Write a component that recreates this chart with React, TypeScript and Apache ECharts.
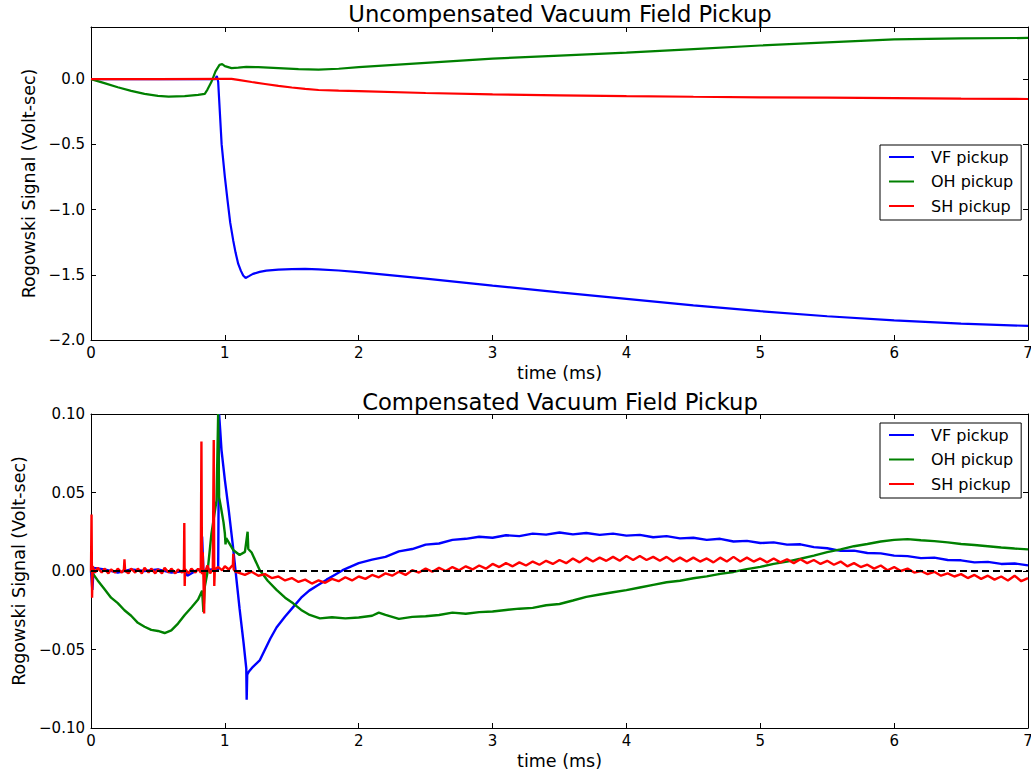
import { useEffect, useRef } from 'react';
import * as echarts from 'echarts';

const FONT = '"DejaVu Sans", Verdana, sans-serif';

const SERIES_NAMES = ['VF pickup', 'OH pickup', 'SH pickup'];
const SERIES_COLORS = ['#0000ff', '#008000', '#ff0000'];

const X_TICKS = [0, 1, 2, 3, 4, 5, 6, 7];
const TOP_Y_TICKS = [-2.0, -1.5, -1.0, -0.5, 0.0];
const BOTTOM_Y_TICKS = [-0.1, -0.05, 0.0, 0.05, 0.1];

// Uncompensated signals: [time (ms), Volt-sec]
const vfRaw: [number, number][] = [
  [0, 0], [0.3, 0.001], [0.6, 0.0], [0.93, 0.0], [0.94, 0.025], [0.95, -0.02],
  [0.976, -0.5], [1.0, -0.75], [1.02, -0.93], [1.04, -1.1], [1.063, -1.24],
  [1.08, -1.33], [1.1, -1.417], [1.12, -1.47], [1.137, -1.506], [1.155, -1.524],
  [1.18, -1.51], [1.21, -1.493], [1.26, -1.478], [1.31, -1.468], [1.4, -1.46],
  [1.5, -1.456], [1.6, -1.455], [1.7, -1.458], [1.85, -1.467], [2.0, -1.48],
  [2.25, -1.505], [2.5, -1.53], [2.75, -1.556], [3.0, -1.583], [3.5, -1.635],
  [4.0, -1.685], [4.5, -1.735], [5.0, -1.779], [5.5, -1.818], [6.0, -1.85],
  [6.5, -1.875], [7.0, -1.892],
];

const ohRaw: [number, number][] = [
  [0, 0], [0.1, -0.03], [0.2, -0.062], [0.3, -0.09], [0.4, -0.113], [0.5, -0.128],
  [0.58, -0.134], [0.7, -0.13], [0.8, -0.12], [0.85, -0.113], [0.87, -0.08],
  [0.9, -0.02], [0.93, 0.06], [0.96, 0.11], [0.98, 0.115], [1.0, 0.1],
  [1.05, 0.085], [1.1, 0.088], [1.16, 0.094], [1.25, 0.092], [1.4, 0.085],
  [1.55, 0.077], [1.7, 0.073], [1.85, 0.08], [2.0, 0.092], [2.5, 0.125],
  [3.0, 0.158], [3.5, 0.18], [4.0, 0.203], [4.5, 0.23], [5.0, 0.258],
  [5.5, 0.282], [6.0, 0.305], [6.5, 0.313], [7.0, 0.316],
];

const shRaw: [number, number][] = [
  [0, 0], [0.5, 0.001], [1.0, 0.002], [1.05, 0.002], [1.1, -0.005], [1.2, -0.022],
  [1.3, -0.037], [1.4, -0.052], [1.5, -0.064], [1.6, -0.075], [1.7, -0.083],
  [1.85, -0.088], [2.0, -0.092], [2.5, -0.106], [3.0, -0.117], [3.5, -0.124],
  [4.0, -0.13], [4.5, -0.135], [5.0, -0.139], [5.5, -0.142], [6.0, -0.145],
  [6.5, -0.149], [7.0, -0.152],
];

// Compensated signals: [time (ms), Volt-sec]
const vfComp: [number, number][] = [
  [0, 0], [0.01, -0.012], [0.02, 0.002], [0.1, 0.001], [0.2, -0.001], [0.3, 0.001],
  [0.4, 0.0], [0.5, 0.001], [0.6, -0.001], [0.7, 0.0], [0.72, -0.003], [0.8, 0.001],
  [0.825, 0.0], [0.83, 0.022], [0.84, 0.0], [0.9, 0.001], [0.95, 0.001],
  [0.957, 0.1], [0.965, 0.09], [0.975, 0.077], [1.0, 0.058], [1.03, 0.038],
  [1.06, 0.016], [1.09, -0.008], [1.11, -0.024], [1.14, -0.046], [1.16, -0.062],
  [1.163, -0.082], [1.167, -0.066], [1.18, -0.064], [1.21, -0.061], [1.26, -0.057],
  [1.3, -0.05], [1.34, -0.043], [1.386, -0.036], [1.45, -0.029], [1.51, -0.023],
  [1.57, -0.017], [1.63, -0.0125], [1.7, -0.0088], [1.76, -0.0055], [1.82, -0.0025],
  [1.88, 0.0005], [1.94, 0.0028], [2.0, 0.005], [2.1, 0.0072], [2.2, 0.009],
  [2.3, 0.0125], [2.4, 0.014], [2.5, 0.0168], [2.6, 0.0175], [2.7, 0.0198],
  [2.8, 0.0205], [2.9, 0.0218], [3.0, 0.0212], [3.1, 0.0228], [3.2, 0.0222],
  [3.3, 0.0238], [3.4, 0.0232], [3.5, 0.0245], [3.6, 0.0233], [3.7, 0.0242],
  [3.8, 0.023], [3.9, 0.0238], [4.0, 0.0225], [4.1, 0.023], [4.2, 0.0215],
  [4.3, 0.0222], [4.4, 0.0208], [4.5, 0.0212], [4.6, 0.0198], [4.7, 0.0205],
  [4.8, 0.0188], [4.9, 0.0192], [5.0, 0.0178], [5.1, 0.0182], [5.2, 0.0168],
  [5.3, 0.017], [5.4, 0.0152], [5.5, 0.0145], [5.6, 0.0128], [5.7, 0.013],
  [5.8, 0.0115], [5.9, 0.0112], [6.0, 0.0098], [6.1, 0.0095], [6.2, 0.0082],
  [6.3, 0.0085], [6.4, 0.007], [6.5, 0.0068], [6.6, 0.0055], [6.7, 0.0058],
  [6.8, 0.0045], [6.9, 0.0048], [7.0, 0.0036],
];

const ohComp: [number, number][] = [
  [0, 0], [0.05, -0.006], [0.1, -0.0115], [0.15, -0.017], [0.2, -0.0205],
  [0.25, -0.025], [0.3, -0.0285], [0.35, -0.033], [0.4, -0.0355], [0.45, -0.0375],
  [0.5, -0.0382], [0.55, -0.0395], [0.6, -0.0378], [0.65, -0.0335], [0.7, -0.028],
  [0.75, -0.0232], [0.8, -0.0182], [0.83, -0.0125], [0.84, -0.026], [0.85, -0.01],
  [0.87, -0.001], [0.9, 0.024], [0.938, 0.045], [0.95, 0.1], [0.957, 0.047],
  [0.97, 0.041], [0.99, 0.031], [1.0, 0.024], [1.005, 0.017], [1.01, 0.021],
  [1.062, 0.0134], [1.11, 0.0102], [1.15, 0.0122], [1.17, 0.025], [1.175, 0.014],
  [1.2, 0.0118], [1.26, 0.0006], [1.32, -0.0062], [1.386, -0.012], [1.45, -0.017],
  [1.51, -0.0206], [1.57, -0.0248], [1.634, -0.028], [1.71, -0.0302], [1.8, -0.0295],
  [1.9, -0.0302], [2.0, -0.0296], [2.1, -0.0285], [2.15, -0.0265], [2.2, -0.028],
  [2.3, -0.0305], [2.4, -0.0292], [2.5, -0.0288], [2.6, -0.028], [2.7, -0.0265],
  [2.8, -0.0272], [2.9, -0.0262], [3.0, -0.0258], [3.1, -0.0248], [3.2, -0.024],
  [3.3, -0.0235], [3.4, -0.0218], [3.5, -0.021], [3.6, -0.0188], [3.7, -0.0165],
  [3.8, -0.015], [3.9, -0.0135], [4.0, -0.0122], [4.1, -0.0105], [4.2, -0.0088],
  [4.3, -0.0072], [4.4, -0.0062], [4.5, -0.0046], [4.6, -0.0034], [4.7, -0.0018],
  [4.8, -0.0006], [4.9, 0.0012], [5.0, 0.0026], [5.1, 0.0045], [5.2, 0.006],
  [5.3, 0.0078], [5.4, 0.0098], [5.5, 0.012], [5.6, 0.0138], [5.7, 0.0158],
  [5.8, 0.0172], [5.9, 0.0188], [6.0, 0.0198], [6.1, 0.0203], [6.2, 0.0196],
  [6.3, 0.019], [6.4, 0.0182], [6.5, 0.0172], [6.6, 0.0166], [6.7, 0.0158],
  [6.8, 0.015], [6.9, 0.0143], [7.0, 0.0138],
];

const shComp: [number, number][] = [
  [0, 0], [0.004, 0.036], [0.008, -0.017], [0.012, 0.003], [0.03, -0.001],
  [0.05, 0.002], [0.08, -0.001], [0.1, 0.0015], [0.13, -0.0015], [0.15, 0.001],
  [0.18, -0.001], [0.2, 0.0015], [0.23, -0.001], [0.246, 0.001], [0.25, 0.0075],
  [0.255, 0.0], [0.28, -0.0015], [0.3, 0.0015], [0.33, -0.001], [0.35, 0.0015],
  [0.38, -0.0015], [0.4, 0.002], [0.43, -0.001], [0.45, 0.0015], [0.48, -0.0015],
  [0.5, 0.001], [0.53, -0.0015], [0.55, 0.002], [0.58, -0.001], [0.6, 0.0015],
  [0.63, -0.0015], [0.65, 0.001], [0.68, -0.001], [0.694, 0.001], [0.697, 0.0305],
  [0.7, -0.0095], [0.703, 0.001], [0.73, -0.0015], [0.75, 0.0015], [0.78, -0.001],
  [0.8, 0.0015], [0.82, -0.001], [0.825, 0.0825], [0.829, -0.002], [0.835, 0.012],
  [0.84, -0.004], [0.845, -0.027], [0.85, -0.001], [0.87, 0.0035], [0.89, -0.0015],
  [0.91, 0.001], [0.917, 0.0835], [0.921, -0.0095], [0.925, 0.001], [0.95, 0.0025],
  [0.98, 0.0005], [1.0, 0.003], [1.03, 0.001], [1.06, 0.004], [1.063, 0.011],
  [1.066, 0.001], [1.08, -0.0005], [1.1, -0.001], [1.15, -0.0025], [1.2, -0.0005],
  [1.25, -0.003], [1.3, -0.002], [1.35, -0.0045], [1.4, -0.0035], [1.45, -0.006],
  [1.5, -0.0045], [1.55, -0.007], [1.6, -0.0055], [1.65, -0.008], [1.7, -0.006],
  [1.75, -0.0075], [1.8, -0.005], [1.85, -0.0065], [1.9, -0.004], [1.95, -0.006],
  [2.0, -0.0035], [2.05, -0.005], [2.1, -0.0025], [2.15, -0.004], [2.2, -0.0015],
  [2.25, -0.003], [2.3, -0.0005], [2.35, -0.0025], [2.4, 0.0005], [2.45, -0.001],
  [2.5, 0.0015], [2.55, -0.0005], [2.6, 0.002], [2.65, 0.0], [2.7, 0.0025],
  [2.75, 0.0005], [2.8, 0.003], [2.85, 0.001], [2.9, 0.0035], [2.95, 0.0015],
  [3.0, 0.0045], [3.05, 0.0025], [3.1, 0.005], [3.15, 0.003], [3.2, 0.0055],
  [3.25, 0.0035], [3.3, 0.006], [3.35, 0.004], [3.4, 0.0065], [3.45, 0.0045],
  [3.5, 0.007], [3.55, 0.005], [3.6, 0.008], [3.65, 0.0055], [3.7, 0.0085],
  [3.75, 0.006], [3.8, 0.0085], [3.85, 0.0065], [3.9, 0.009], [3.95, 0.0065],
  [4.0, 0.0095], [4.05, 0.007], [4.1, 0.0095], [4.15, 0.007], [4.2, 0.009],
  [4.25, 0.0065], [4.3, 0.009], [4.35, 0.006], [4.4, 0.0085], [4.45, 0.006],
  [4.5, 0.0085], [4.55, 0.006], [4.6, 0.008], [4.65, 0.0055], [4.7, 0.0085],
  [4.75, 0.006], [4.8, 0.009], [4.85, 0.006], [4.9, 0.0085], [4.95, 0.006],
  [5.0, 0.008], [5.05, 0.0055], [5.1, 0.008], [5.15, 0.0055], [5.2, 0.0075],
  [5.25, 0.005], [5.3, 0.0075], [5.35, 0.005], [5.4, 0.007], [5.45, 0.0045],
  [5.5, 0.0065], [5.55, 0.004], [5.6, 0.006], [5.65, 0.003], [5.7, 0.005],
  [5.75, 0.0025], [5.8, 0.004], [5.85, 0.0015], [5.9, 0.0035], [5.95, 0.0005],
  [6.0, 0.0025], [6.05, 0.0], [6.1, 0.0015], [6.15, -0.001], [6.2, 0.0],
  [6.25, -0.002], [6.3, -0.0005], [6.35, -0.003], [6.4, -0.0015], [6.45, -0.0035],
  [6.5, -0.002], [6.55, -0.0045], [6.6, -0.0025], [6.65, -0.005], [6.7, -0.003],
  [6.75, -0.0055], [6.8, -0.0035], [6.85, -0.006], [6.9, -0.003], [6.95, -0.0065],
  [7.0, -0.0045],
];

const zeroLine: [number, number][] = [[0, 0], [7, 0]];

const TOP_SERIES = [vfRaw, ohRaw, shRaw];
const BOTTOM_SERIES = [vfComp, ohComp, shComp];

const minusFmt = (digits: number) => (v: number) => {
  const r = Math.round(v * 1e6) / 1e6;
  return (r < 0 ? '\u2212' : '') + Math.abs(r).toFixed(digits);
};

function onlyTicks(ticks: number[], fmt: (v: number) => string) {
  return (v: number) => (ticks.some((t) => Math.abs(t - v) < 1e-9) ? fmt(v) : '');
}

export default function App() {
  const ref = useRef<HTMLDivElement>(null);

  useEffect(() => {
    if (!ref.current) return;
    const chart = echarts.init(ref.current, undefined, { renderer: 'svg' });

    const grids = [
      { left: 91, top: 27, width: 937, height: 313 },
      { left: 91, top: 414, width: 937, height: 314 },
    ];

    const lineAxis = { show: true, onZero: false, lineStyle: { color: '#000', width: 1 } };
    const tick = { show: true, inside: true, length: 5, lineStyle: { color: '#000', width: 1 } };
    const labelStyle = { fontFamily: FONT, fontSize: 15, color: '#000' };
    const nameStyle = { fontFamily: FONT, fontSize: 17.5, color: '#000' };

    const xAxes: any[] = [];
    const yAxes: any[] = [];
    const yRanges = [
      { min: -2.0, max: 0.4, interval: 0.5, ticks: TOP_Y_TICKS, digits: 1, gap: 51 },
      { min: -0.1, max: 0.1, interval: 0.05, ticks: BOTTOM_Y_TICKS, digits: 2, gap: 61 },
    ];

    [0, 1].forEach((g) => {
      xAxes.push({
        type: 'value', gridIndex: g, position: 'bottom', min: 0, max: 7, interval: 1,
        axisLine: lineAxis, axisTick: tick, splitLine: { show: false },
        axisLabel: { ...labelStyle, margin: 5, formatter: onlyTicks(X_TICKS, (v) => String(v)) },
        name: 'time (ms)', nameLocation: 'middle', nameGap: 24, nameTextStyle: nameStyle,
      });
      xAxes.push({
        type: 'value', gridIndex: g, position: 'top', min: 0, max: 7, interval: 1,
        axisLine: lineAxis, axisTick: tick, splitLine: { show: false },
        axisLabel: { show: false },
      });
      const r = yRanges[g];
      yAxes.push({
        type: 'value', gridIndex: g, position: 'left', min: r.min, max: r.max, interval: r.interval,
        axisLine: lineAxis, axisTick: tick, splitLine: { show: false },
        axisLabel: { ...labelStyle, margin: 6, formatter: onlyTicks(r.ticks, minusFmt(r.digits)) },
        name: 'Rogowski Signal (Volt-sec)', nameLocation: 'middle', nameGap: r.gap,
        nameRotate: 90, nameTextStyle: nameStyle,
      });
      yAxes.push({
        type: 'value', gridIndex: g, position: 'right', min: r.min, max: r.max, interval: r.interval,
        axisLine: lineAxis, axisTick: tick, splitLine: { show: false },
        axisLabel: { show: false },
      });
    });

    const series: any[] = [];
    const addLines = (sets: [number, number][][], g: number, width: number) => {
      sets.forEach((data, i) => {
        series.push({
          type: 'line', name: SERIES_NAMES[i], data,
          xAxisIndex: g * 2, yAxisIndex: g * 2,
          showSymbol: false, symbol: 'none', clip: true,
          itemStyle: { color: SERIES_COLORS[i] },
          lineStyle: { color: SERIES_COLORS[i], width },
          emphasis: { disabled: true },
        });
      });
    };
    addLines(TOP_SERIES, 0, 2.2);
    addLines(BOTTOM_SERIES, 1, 2.4);
    series.push({
      type: 'line', name: 'zero', data: zeroLine, xAxisIndex: 2, yAxisIndex: 2,
      showSymbol: false, symbol: 'none',
      lineStyle: { color: '#000', width: 2, type: [7, 4] },
      emphasis: { disabled: true }, z: 5,
    });

    const legendBase = {
      data: SERIES_NAMES, orient: 'vertical', left: 880, icon: 'rect',
      itemWidth: 25, itemHeight: 2, itemGap: 8.5, padding: [4, 8, 6, 9],
      borderColor: '#000', borderWidth: 1, backgroundColor: '#fff', selectedMode: false,
      textStyle: { fontFamily: FONT, fontSize: 16, color: '#000', padding: [0, 0, 0, 12], lineHeight: 16 },
    };

    chart.setOption({
      animation: false,
      backgroundColor: '#fff',
      textStyle: { fontFamily: FONT },
      grid: grids.map((g) => ({ ...g, containLabel: false, outerBoundsMode: 'none' })),
      xAxis: xAxes,
      yAxis: yAxes,
      legend: [
        { ...legendBase, top: 145 },
        { ...legendBase, top: 423 },
      ],
      graphic: [
        {
          type: 'text', x: 560, y: 13.5,
          style: { text: 'Uncompensated Vacuum Field Pickup', fontFamily: FONT, fontSize: 22.7, fill: '#000', align: 'center', verticalAlign: 'middle' },
        },
        {
          type: 'text', x: 560, y: 401.5,
          style: { text: 'Compensated Vacuum Field Pickup', fontFamily: FONT, fontSize: 22.7, fill: '#000', align: 'center', verticalAlign: 'middle' },
        },
      ],
      series,
    });

    return () => chart.dispose();
  }, []);

  return (
    <div
      ref={ref}
      style={{ position: 'fixed', left: 0, top: 0, width: 1031, height: 778, background: '#fff' }}
    />
  );
}
